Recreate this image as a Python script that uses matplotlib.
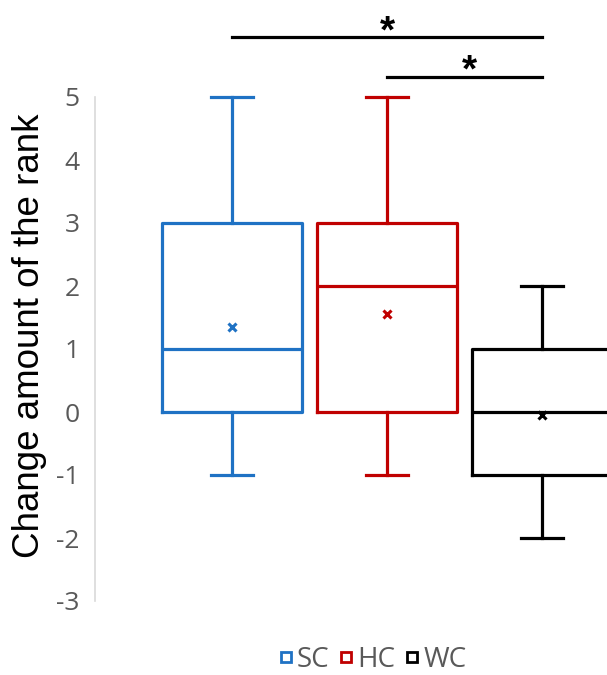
import matplotlib.pyplot as plt
from matplotlib.lines import Line2D

plt.rcParams['axes.unicode_minus'] = False

# box stats
groups = ["SC", "HC", "WC"]
colors = ["#1f72c4", "#c00000", "#000000"]
whislo = [-1, -1, -2]
q1 = [0, 0, -1]
med = [1, 2, 0]
q3 = [3, 3, 1]
whishi = [5, 5, 2]
means = [1.35, 1.55, -0.05]

# significance pairs (group index from, to)
sig_pairs = [(0, 2), (1, 2)]
sig_levels = [5.95, 5.32]

fig = plt.figure(figsize=(6.07, 6.75), dpi=100)
ax = fig.add_axes([95 / 607, 74 / 675, 1 - 95 / 607, 601 / 675])

stats = []
for i, g in enumerate(groups):
    stats.append(dict(label=g, whislo=whislo[i], q1=q1[i], med=med[i],
                      q3=q3[i], whishi=whishi[i], mean=means[i], fliers=[]))

pos = [1, 2, 3]
for i in range(3):
    c = colors[i]
    ax.bxp([stats[i]], positions=[pos[i]], widths=0.9, showmeans=True,
           showfliers=False, patch_artist=False,
           boxprops=dict(color=c, linewidth=2.3),
           medianprops=dict(color=c, linewidth=2.3),
           whiskerprops=dict(color=c, linewidth=2.3),
           capprops=dict(color=c, linewidth=2.3),
           capwidths=0.27,
           meanprops=dict(marker="x", markeredgecolor=c, markersize=6,
                          markeredgewidth=2.2))

# stars: baseline put below the glyph centre (asterisk sits high in the em box)
for (a, b), lvl in zip(sig_pairs, sig_levels):
    ax.plot([pos[a], pos[b]], [lvl, lvl], color="black", lw=2.3, clip_on=False)
    xm = (pos[a] + pos[b]) / 2 + (0.0 if a == 0 else 0.03)
    ax.text(xm, lvl - 0.08, "*", ha="center", va="baseline", fontsize=28,
            fontweight="bold", family="Liberation Sans")

ax.set_xlim(0.116, 3.419)
ax.set_ylim(-3, 412 / 63)
ax.set_yticks(range(-3, 6))
ax.set_xticks([])
for s in ["top", "right", "bottom"]:
    ax.spines[s].set_visible(False)
ax.spines["left"].set_bounds(-3, 5)
ax.spines["left"].set_color("#d9d9d9")
ax.spines["left"].set_linewidth(1.2)
ax.tick_params(axis="y", length=0, pad=11, labelsize=19, labelcolor="#595959")
for t in ax.get_yticklabels():
    t.set_family("Open Sans")
ax.set_ylabel("Change amount of the rank", fontsize=26.5,
              family="Liberation Sans")
ax.yaxis.set_label_coords(-0.094, 0.441)

handles = [Line2D([], [], linestyle="none", marker="s", markersize=7,
                  markerfacecolor="white", markeredgecolor=c,
                  markeredgewidth=2) for c in colors]
leg = fig.legend(handles, groups, loc="center", bbox_to_anchor=(372 / 607, 1 - 660 / 675),
                 ncol=3, frameon=False, handlelength=0.6, handletextpad=0.1,
                 columnspacing=0.3, prop=dict(family="Open Sans", size=20))
for t in leg.get_texts():
    t.set_color("#595959")

fig.savefig("out.png", dpi=100)
